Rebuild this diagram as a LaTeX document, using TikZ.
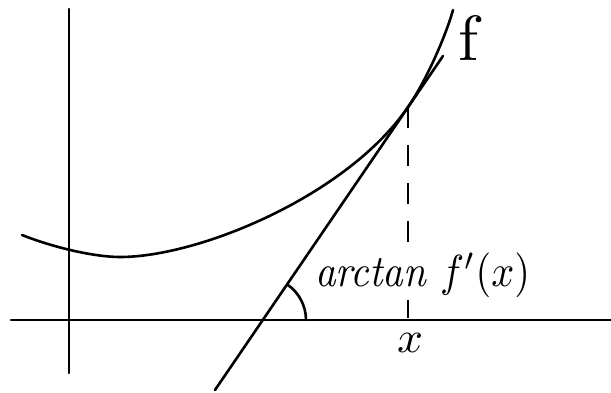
\documentclass[tikz,border=0pt]{standalone}
\usepackage{graphicx}
\begin{document}
\begin{tikzpicture}[x=1pt,y=-1pt,line cap=round,
  axisline/.style={line width=2.2pt},
  curveline/.style={line width=2.6pt},
  dashline/.style={line width=2pt,line cap=butt,dash pattern=on 21pt off 17pt},
  lbl/.style={inner sep=0pt,outer sep=0pt}]
\useasboundingbox (0,0) rectangle (611,392);
% axes
\coordinate (yt) at (69,9);
\coordinate (yb) at (69,373);
\coordinate (xl) at (11,320);
\coordinate (xr) at (611,320);
\draw[axisline] (yt) -- (yb);
\draw[axisline] (xl) -- (xr);
% curve f
\coordinate (C0) at (22,235);
\coordinate (Cm) at (120,257);
\coordinate (T) at (408,107);
\coordinate (C3) at (453,10);
\draw[curveline] (C0) .. controls (55,248) and (95,257) .. (Cm)
  .. controls (200,257) and (348,195) .. (T)
  .. controls (428,78) and (447,32) .. (C3);
% tangent line
\coordinate (L1) at (215,390);
\coordinate (L2) at (443,56);
\draw[curveline] (L1) -- (L2);
% dashed drop
\coordinate (Tx) at (408,320);
\draw[dashline] (T) -- (Tx);
% angle arc
\coordinate (O) at (263,320);
\coordinate (A0) at (306,320);
\draw[curveline] (A0) arc[start angle=0,end angle=55.7,radius=43pt];
% labels
\node[lbl,anchor=south west,fill=white,inner ysep=2pt] (lab) at (315,300)
  {\resizebox*{215pt}{45pt}{\itshape arctan $f'(x)$}};
\node[lbl,anchor=south west] (flab) at (458,60)
  {\resizebox*{20pt}{45pt}{f}};
\node[lbl,anchor=south west] (xlab) at (397,352)
  {\resizebox*{26pt}{19pt}{$x$}};
\end{tikzpicture}
\end{document}
